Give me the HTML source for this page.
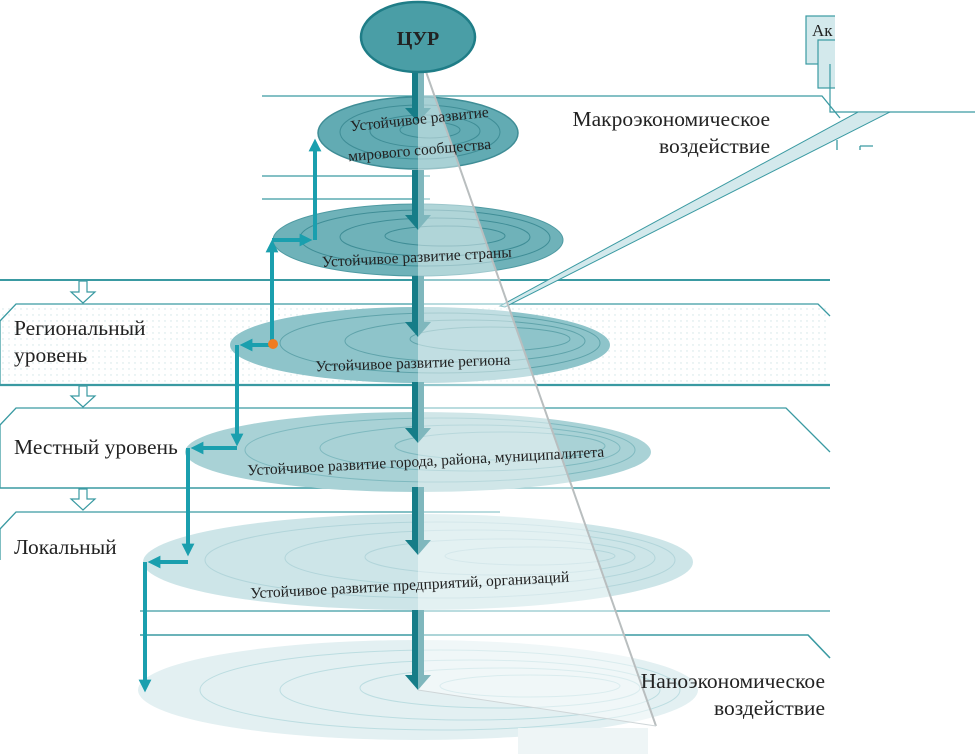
<!DOCTYPE html>
<html><head><meta charset="utf-8"><style>
html,body{margin:0;padding:0;background:#fff}
svg{display:block}
text{font-family:"Liberation Serif",serif;fill:#222}
</style></head><body>
<svg width="975" height="754" viewBox="0 0 975 754" xmlns="http://www.w3.org/2000/svg">
<defs>
<pattern id="dots" width="6" height="6" patternUnits="userSpaceOnUse"><circle cx="3" cy="3" r="0.7" fill="#cfe3e5"/></pattern>
<marker id="ah" viewBox="0 0 10 10" refX="5" refY="5" markerWidth="3.2" markerHeight="3.2" orient="auto"><path d="M0,0 L10,5 L0,10 z" fill="#1a9fae"/></marker>
</defs>

<g stroke="#3a9aa2" fill="none" stroke-width="1.3">
<path d="M262,96 H822 L840,118"/>
<path d="M262,176 H430"/>
<path d="M262,199 H430"/>
<path d="M0,280 H830" stroke-width="2"/>
<path d="M0,321 L16,304 H818 L830,316"/>
<path d="M0,321 V385"/>
<path d="M0,385 H830" stroke-width="2.2"/>
<path d="M0,425 L16,408 H786 L830,452"/>
<path d="M0,425 V488"/>
<path d="M0,488 H830" stroke-width="1.6"/>
<path d="M0,529 L16,512 H500"/>
<path d="M0,529 V560"/>
<path d="M140,611 H830"/>
<path d="M140,635 H808 L830,658" stroke-width="1.6"/>
<path d="M837,140 V150 M860,146 V150 M860,146 H873"/>
</g>
<rect x="1" y="305" width="829" height="79" fill="url(#dots)"/>

<g fill="#fff" stroke="#3a9aa2" stroke-width="1.2">
<path d="M79,281 V292 H71 L83,303 L95,292 H87 V281 z"/>
<path d="M79,386 V396 H71 L83,407 L95,396 H87 V386 z"/>
<path d="M79,489 V499 H71 L83,510 L95,499 H87 V489 z"/>
</g>

<rect x="806" y="16" width="40" height="48" fill="#d3e9ec" stroke="#3a9aa2" stroke-width="1.2"/>
<text x="812" y="36" font-size="17">Ак</text>
<rect x="818" y="40" width="40" height="48" fill="#d3e9ec" stroke="#3a9aa2" stroke-width="1.2"/>
<rect x="835" y="0" width="140" height="110" fill="#fff"/>
<path d="M830,64 V112 H975" fill="none" stroke="#3a9aa2" stroke-width="1.2"/>
<path d="M858,112 L890,112 L505,307 L500,306 z" fill="#d3e9ec" stroke="#3a9aa2" stroke-width="1"/>

<g stroke="#bcdde1" fill="none" stroke-width="1">
<ellipse cx="418" cy="690" rx="280" ry="50" fill="#e3f0f2" stroke="none"/>
<ellipse cx="440" cy="690" rx="240" ry="40"/><ellipse cx="470" cy="690" rx="190" ry="30"/><ellipse cx="500" cy="688" rx="140" ry="20"/><ellipse cx="530" cy="686" rx="90" ry="11"/>
<ellipse cx="418" cy="562" rx="275" ry="48" fill="#cde5e8" stroke="none"/>
<ellipse cx="440" cy="560" rx="235" ry="38" stroke="#b2d5da"/><ellipse cx="470" cy="558" rx="185" ry="28" stroke="#b2d5da"/><ellipse cx="500" cy="557" rx="135" ry="18" stroke="#b2d5da"/><ellipse cx="530" cy="556" rx="85" ry="9" stroke="#b2d5da"/>
</g>
<g fill="none" stroke="#7fb9bf" stroke-width="1">
<ellipse cx="418" cy="452" rx="233" ry="40" fill="#a9d2d6" stroke="none"/>
<ellipse cx="440" cy="450" rx="195" ry="32"/><ellipse cx="470" cy="448" rx="150" ry="23"/><ellipse cx="500" cy="446" rx="105" ry="14"/>
<ellipse cx="420" cy="345" rx="190" ry="38" fill="#8ec4ca" stroke="none"/>
<ellipse cx="440" cy="343" rx="160" ry="30" stroke="#5fa3aa"/><ellipse cx="465" cy="341" rx="120" ry="21" stroke="#5fa3aa"/><ellipse cx="490" cy="339" rx="80" ry="12" stroke="#5fa3aa"/>
<ellipse cx="418" cy="240" rx="145" ry="36" fill="#6fb2b9" stroke="#4e9aa2"/>
<ellipse cx="425" cy="238" rx="125" ry="28" stroke="#3f8d96"/><ellipse cx="435" cy="237" rx="95" ry="19" stroke="#3f8d96"/><ellipse cx="445" cy="236" rx="60" ry="10" stroke="#3f8d96"/>
<ellipse cx="418" cy="133" rx="100" ry="36" fill="#62abb3" stroke="#3f8d96" stroke-width="1.5"/>
<ellipse cx="420" cy="132" rx="80" ry="27" stroke="#3f8d96"/><ellipse cx="425" cy="131" rx="55" ry="16" stroke="#3f8d96"/><ellipse cx="430" cy="130" rx="30" ry="8" stroke="#3f8d96"/>
</g>

<g fill="#167d88">
<path d="M412,70 H424 V108 H431 L418,122 L405,108 H412 z"/>
<path d="M412,170 H424 V215 H431 L418,230 L405,215 H412 z"/>
<path d="M412,276 H424 V322 H431 L418,337 L405,322 H412 z"/>
<path d="M412,382 H424 V428 H431 L418,443 L405,428 H412 z"/>
<path d="M412,487 H424 V540 H431 L418,555 L405,540 H412 z"/>
<path d="M412,610 H424 V675 H431 L418,690 L405,675 H412 z"/>
</g>

<path d="M418,70 L424,66 L656,726 L418,690 z" fill="#fff" fill-opacity="0.45"/>
<path d="M424,66 L656,726" stroke="#b9bebf" stroke-width="2" fill="none"/>
<path d="M418,690 L656,726" stroke="#cfd6d8" stroke-width="1" fill="none"/>
<rect x="518" y="728" width="130" height="26" fill="#eef5f6"/>

<ellipse cx="418" cy="37" rx="57" ry="35" fill="#4a9ea6" stroke="#1f7d87" stroke-width="2.5"/>
<text x="418" y="45" font-size="20" font-weight="bold" text-anchor="middle" fill="#1b2a2c">ЦУР</text>

<g font-size="15.5">
<text x="420" y="124" text-anchor="middle" transform="rotate(-6 420 124)">Устойчивое развитие</text>
<text x="420" y="155" text-anchor="middle" transform="rotate(-5 420 155)">мирового сообщества</text>
<text x="417" y="262" text-anchor="middle" transform="rotate(-3 417 262)">Устойчивое развитие страны</text>
<text x="413" y="368" text-anchor="middle" transform="rotate(-2 413 368)">Устойчивое развитие региона</text>
<text x="426" y="466" text-anchor="middle" transform="rotate(-3 426 466)">Устойчивое развитие города, района, муниципалитета</text>
<text x="410" y="590" text-anchor="middle" transform="rotate(-3 410 590)">Устойчивое развитие предприятий, организаций</text>
</g>

<g stroke="#1a9fae" stroke-width="4" fill="none">
<path d="M272,345 V246" marker-end="url(#ah)"/>
<path d="M272,240 H306" marker-end="url(#ah)"/>
<path d="M315,240 V145" marker-end="url(#ah)"/>
<path d="M272,345 H246" marker-end="url(#ah)"/>
<path d="M237,345 V440" marker-end="url(#ah)"/>
<path d="M237,448 H197" marker-end="url(#ah)"/>
<path d="M188,448 V550" marker-end="url(#ah)"/>
<path d="M188,562 H154" marker-end="url(#ah)"/>
<path d="M145,562 V686" marker-end="url(#ah)"/>
</g>
<circle cx="273" cy="344" r="5" fill="#f07c22"/>

<g font-size="21.5">
<text x="770" y="126" text-anchor="end">Макроэкономическое</text>
<text x="770" y="153" text-anchor="end">воздействие</text>
<text x="14" y="335">Региональный</text>
<text x="14" y="362">уровень</text>
<text x="14" y="454">Местный уровень</text>
<text x="14" y="554">Локальный</text>
<text x="825" y="688" text-anchor="end">Наноэкономическое</text>
<text x="825" y="715" text-anchor="end">воздействие</text>
</g>
</svg>
</body></html>
